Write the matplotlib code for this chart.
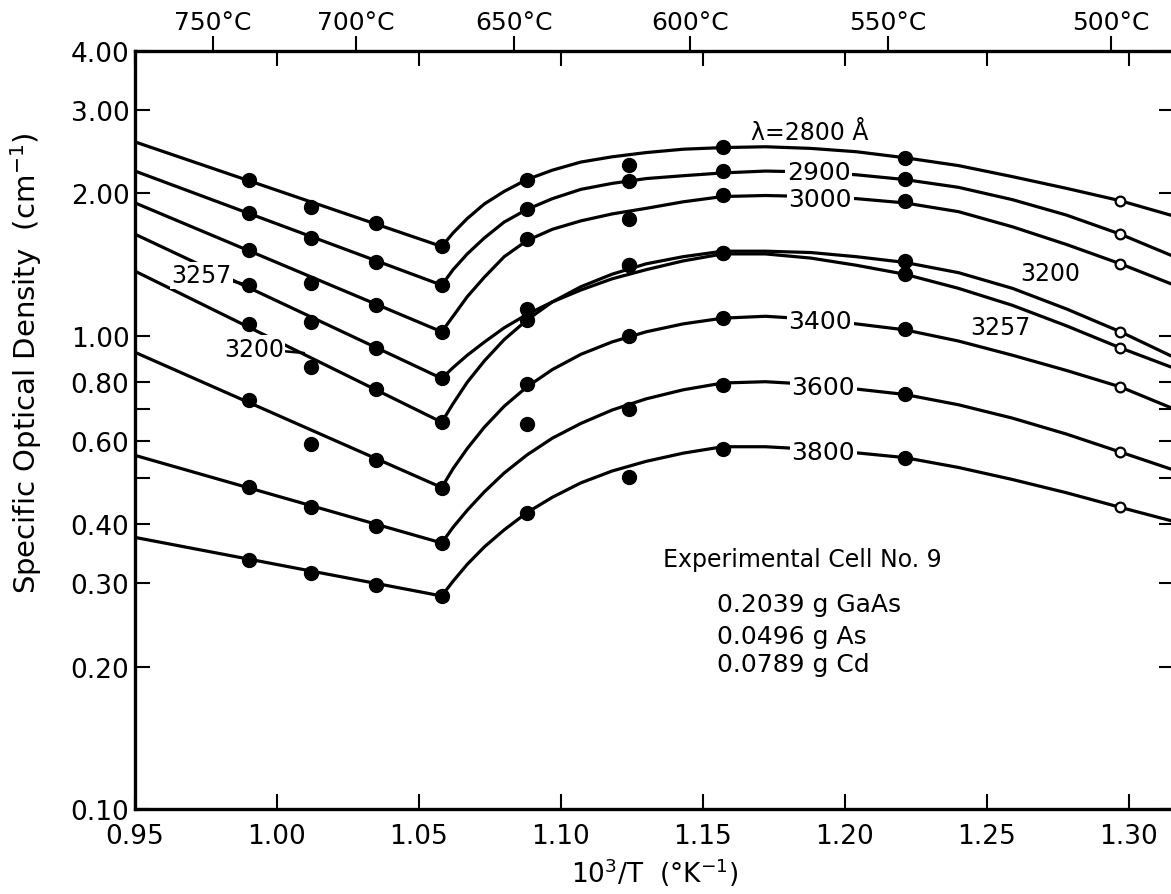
import matplotlib
matplotlib.use('Agg')
import matplotlib.pyplot as plt
import matplotlib.ticker as mticker

curve_x = [0.95, 1.058, 1.062, 1.067, 1.073, 1.080, 1.088, 1.097, 1.107, 1.118,
           1.130, 1.143, 1.157, 1.172, 1.188, 1.204, 1.221, 1.240, 1.259, 1.278,
           1.297, 1.316]

curve_2800 = [2.57, 1.545, 1.65, 1.77, 1.90, 2.02, 2.14, 2.24, 2.33, 2.39, 2.44,
              2.48, 2.50, 2.51, 2.49, 2.45, 2.38, 2.29, 2.17, 2.05, 1.93, 1.79]
curve_2900 = [2.23, 1.28, 1.38, 1.49, 1.61, 1.74, 1.85, 1.95, 2.04, 2.10, 2.15,
              2.18, 2.21, 2.23, 2.22, 2.19, 2.14, 2.06, 1.94, 1.80, 1.64, 1.47]
curve_3000 = [1.91, 1.02, 1.10, 1.21, 1.33, 1.47, 1.59, 1.68, 1.75, 1.81, 1.86,
              1.92, 1.97, 1.98, 1.97, 1.95, 1.91, 1.83, 1.70, 1.56, 1.42, 1.28]
curve_3200 = [1.37, 0.657, 0.719, 0.798, 0.885, 0.982, 1.08, 1.18, 1.27, 1.35,
              1.42, 1.47, 1.51, 1.51, 1.50, 1.47, 1.43, 1.36, 1.26, 1.14, 1.02,
              0.90]
curve_3257 = [1.64, 0.813, 0.857, 0.910, 0.970, 1.04, 1.11, 1.18, 1.25, 1.32,
              1.38, 1.44, 1.49, 1.49, 1.46, 1.41, 1.35, 1.26, 1.16, 1.05, 0.943,
              0.854]
curve_3400 = [0.923, 0.478, 0.524, 0.578, 0.641, 0.710, 0.780, 0.849, 0.914,
              0.971, 1.02, 1.06, 1.09, 1.10, 1.085, 1.06, 1.03, 0.975, 0.91,
              0.845, 0.78, 0.70]
curve_3600 = [0.559, 0.365, 0.394, 0.428, 0.468, 0.513, 0.560, 0.608, 0.653,
              0.697, 0.736, 0.769, 0.795, 0.80, 0.79, 0.772, 0.752, 0.715, 0.67,
              0.62, 0.568, 0.52]
curve_3800 = [0.375, 0.282, 0.303, 0.329, 0.358, 0.389, 0.423, 0.456, 0.489,
              0.518, 0.543, 0.565, 0.583, 0.583, 0.576, 0.566, 0.553, 0.527,
              0.497, 0.466, 0.434, 0.405]

# measured points
point_x = [0.990, 1.012, 1.035, 1.058, 1.088, 1.124, 1.157, 1.221, 1.297]
pts_2800 = [2.13, 1.87, 1.73, 1.545, 2.14, 2.30, 2.51, 2.38, 1.93]
pts_2900 = [1.82, 1.61, 1.43, 1.28, 1.85, 2.12, 2.23, 2.15, 1.64]
pts_3000 = [1.52, 1.295, 1.164, 1.02, 1.60, 1.77, 1.98, 1.93, 1.42]
pts_3200 = [1.06, 0.86, 0.772, 0.657, 1.08, 1.41, 1.50, 1.44, 1.02]
pts_3257 = [1.28, 1.07, 0.943, 0.813, 1.14, 1.41, 1.50, 1.35, 0.943]
pts_3400 = [0.732, 0.59, 0.547, 0.478, 0.79, 1.00, 1.093, 1.036, 0.78]
pts_3600 = [0.479, 0.435, 0.397, 0.365, 0.65, 0.70, 0.787, 0.752, 0.568]
pts_3800 = [0.336, 0.315, 0.298, 0.282, 0.423, 0.503, 0.577, 0.553, 0.434]

curves = [curve_2800, curve_2900, curve_3000, curve_3200,
          curve_3257, curve_3400, curve_3600, curve_3800]
points = [pts_2800, pts_2900, pts_3000, pts_3200,
          pts_3257, pts_3400, pts_3600, pts_3800]

y_ticks = [4.0, 3.0, 2.0, 1.0, 0.8, 0.7, 0.6, 0.5, 0.4, 0.3, 0.2, 0.1]
y_ticklabels = ['4.00', '3.00', '2.00', '1.00', '0.80', '', '0.60', '',
                '0.40', '0.30', '0.20', '0.10']
x_ticks = [0.95, 1.00, 1.05, 1.10, 1.15, 1.20, 1.25, 1.30]
x_ticklabels = ['0.95', '1.00', '1.05', '1.10', '1.15', '1.20', '1.25', '1.30']
temps_c = [750, 700, 650, 600, 550, 500]

cell_title = 'Experimental Cell No. 9'
cell_lines = ['0.2039 g GaAs', '0.0496 g As', '0.0789 g Cd']


def main():
    plt.rcParams['font.family'] = ['DejaVu Sans']
    fig = plt.figure(figsize=(11.71, 8.95), dpi=100)
    ax = fig.add_axes([135 / 1171, 85 / 895, 1039.4 / 1171, 758 / 895])

    for c, p in zip(curves, points):
        ax.plot(curve_x, c, '-', color='black', lw=2.3, zorder=2,
                solid_joinstyle='round')
        ax.plot(point_x[:-1], p[:-1], 'o', color='black', ms=10, zorder=3)
        ax.plot(point_x[-1:], p[-1:], 'o', mfc='white', mec='black',
                ms=7, mew=1.6, zorder=3)

    ax.set_yscale('log')
    ax.set_xlim(0.95, 1.316)
    ax.set_ylim(0.1, 4.0)
    ax.yaxis.set_major_locator(mticker.FixedLocator(y_ticks))
    ax.yaxis.set_major_formatter(mticker.FixedFormatter(y_ticklabels))
    ax.yaxis.set_minor_locator(mticker.NullLocator())
    ax.set_xticks(x_ticks)
    ax.set_xticklabels(x_ticklabels)

    # top axis in degrees C
    ax2 = ax.twiny()
    ax2.set_xlim(ax.get_xlim())
    ax2.set_xticks([1000.0 / (t + 273) for t in temps_c])
    ax2.set_xticklabels([f'{t}°C' for t in temps_c])
    ax2.tick_params(axis='x', direction='out', length=11, width=1.5,
                    labelsize=18, pad=1)
    for s in ax2.spines.values():
        s.set_visible(False)

    ax.tick_params(axis='both', which='major', direction='in', length=11,
                   width=1.5, top=True, right=True, labeltop=False)
    ax.tick_params(axis='x', labelsize=19, pad=10)
    ax.tick_params(axis='y', labelsize=19, pad=4)
    for s in ax.spines.values():
        s.set_linewidth(2.4)

    ax.set_xlabel('10$^3$/T  (°K$^{-1}$)', fontsize=19)
    ax.xaxis.set_label_coords(0.5, -0.062)
    ax.set_ylabel('Specific Optical Density  (cm$^{-1}$)', fontsize=21)
    ax.yaxis.set_label_coords(-0.088, 0.59)

    # curve labels
    box = dict(facecolor='white', edgecolor='none', pad=1)
    ax.text(1.1876, 2.70, 'λ=2800 Å', fontsize=17, ha='center', va='center')
    for x, y, s in [(1.1907, 2.22, '2900'), (1.1913, 1.95, '3000'),
                    (1.1913, 1.074, '3400'), (1.1924, 0.781, '3600'),
                    (1.1924, 0.568, '3800')]:
        ax.text(x, y, s, fontsize=18, ha='center', va='center', bbox=box,
                zorder=4)
    ax.text(1.2724, 1.36, '3200', fontsize=17, ha='center', va='center')
    ax.text(1.2547, 1.044, '3257', fontsize=17, ha='center', va='center')

    ax.annotate('3257', xy=(0.9895, 1.285), xytext=(0.9735, 1.342),
                fontsize=17, ha='center', va='center', bbox=box, zorder=4,
                arrowprops=dict(arrowstyle='-', lw=1.8, color='black',
                                shrinkA=0, shrinkB=0))
    ax.annotate('3200', xy=(1.0095, 0.92), xytext=(0.9919, 0.94),
                fontsize=17, ha='center', va='center', bbox=box, zorder=4,
                arrowprops=dict(arrowstyle='-', lw=1.8, color='black',
                                shrinkA=0, shrinkB=0))

    ax.text(1.1849, 0.3377, cell_title, fontsize=17, ha='center', va='center')
    for y, s in zip([0.2713, 0.2322, 0.2025], cell_lines):
        ax.text(1.1549, y, s, fontsize=18, ha='left', va='center')

    fig.savefig('out.png', dpi=100)


if __name__ == "__main__":
    main()
